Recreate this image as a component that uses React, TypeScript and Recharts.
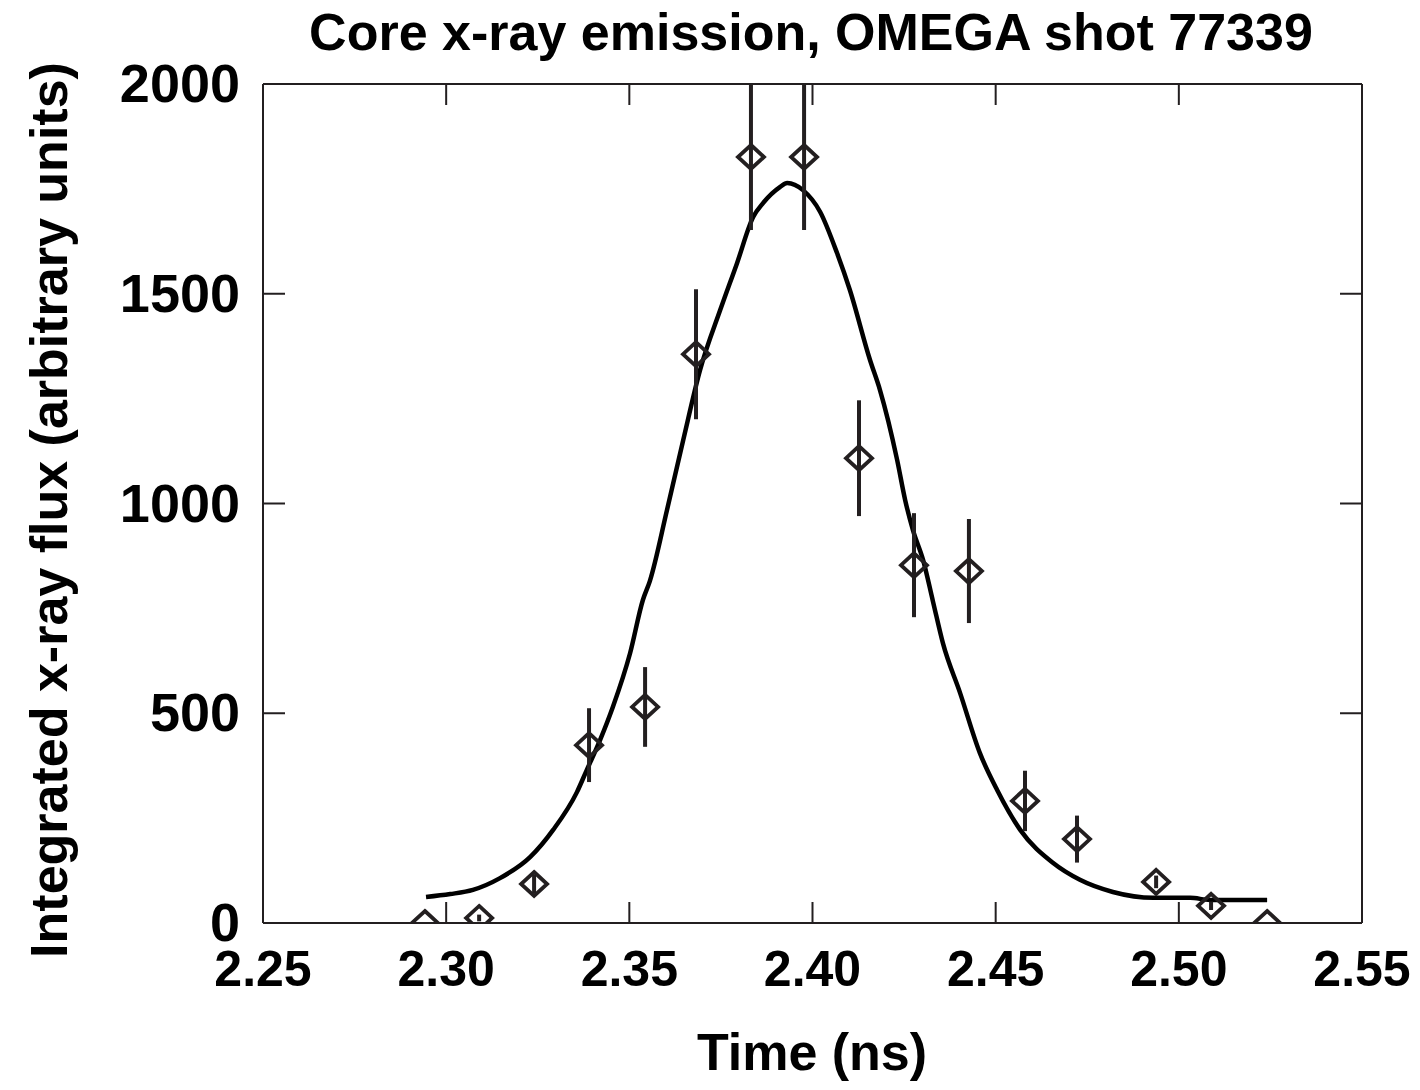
import { ComposedChart, ErrorBar, Line, Scatter, XAxis, YAxis } from 'recharts'

const INK = '#231f20'
const FONT = '"Liberation Sans", Arial, Helvetica, sans-serif'

const X_TICKS = [2.25, 2.3, 2.35, 2.4, 2.45, 2.5, 2.55]
const Y_TICKS = [0, 500, 1000, 1500, 2000]

// fitted curve
const curveTime = [
  2.2945, 2.3011, 2.3073, 2.3147, 2.3229, 2.3292, 2.3357, 2.3384, 2.342, 2.3455, 2.3502, 2.3537, 2.3556,
  2.3603, 2.3647, 2.3693, 2.3748, 2.3794, 2.3838, 2.3865, 2.3911, 2.3931, 2.3974, 2.4021, 2.4067, 2.4102,
  2.4157, 2.4184, 2.4231, 2.4253, 2.4274, 2.4302, 2.4329, 2.4356, 2.4403, 2.4457, 2.4504, 2.4567, 2.4657,
  2.473, 2.482, 2.493, 2.5031, 2.5085, 2.5241,
]
const curveFlux = [
  62, 69, 79, 107, 157, 222, 312, 365, 436, 515, 643, 770, 815,
  985, 1151, 1318, 1461, 1573, 1683, 1716, 1754, 1764, 1747, 1695, 1597, 1509,
  1342, 1271, 1104, 1008, 937, 865, 766, 667, 548, 405, 317, 222, 143,
  103, 74, 60, 60, 55, 55,
]

// measured points with error bars
const pointTime = [
  2.2942, 2.309, 2.324, 2.339, 2.3543, 2.3682, 2.3832, 2.3977, 2.4127, 2.4277, 2.4427, 2.458, 2.4722, 2.4938,
  2.5088, 2.5241,
]
const pointFlux = [0, 12, 93, 424, 515, 1356, 1826, 1826, 1108, 853, 839, 291, 200, 98, 41, 0]
const pointErr = [0, 8, 22, 88, 95, 155, 174, 174, 138, 124, 124, 72, 56, 15, 10, 0]

const curveData = curveTime.map((time, i) => ({ time, flux: curveFlux[i] }))
const pointData = pointTime.map((time, i) => ({ time, flux: pointFlux[i], err: pointErr[i] }))

const tickText = { fontWeight: 700, fill: '#000', fontFamily: FONT }

function BottomTick({ x, y, payload }: any) {
  return (
    <g>
      <line x1={x} y1={y} x2={x} y2={y - 21} stroke={INK} strokeWidth={2} />
      <text x={x} y={y + 63} textAnchor="middle" fontSize={50} {...tickText}>
        {Number(payload.value).toFixed(2)}
      </text>
    </g>
  )
}

function TopTick({ x, y }: any) {
  return <line x1={x} y1={y} x2={x} y2={y + 21} stroke={INK} strokeWidth={2} />
}

function LeftTick({ x, y, payload }: any) {
  return (
    <g>
      <line x1={x} y1={y} x2={x + 22} y2={y} stroke={INK} strokeWidth={2} />
      <text x={x - 23} y={y + 18} textAnchor="end" fontSize={54} {...tickText}>
        {payload.value}
      </text>
    </g>
  )
}

function RightTick({ x, y }: any) {
  return <line x1={x} y1={y} x2={x - 22} y2={y} stroke={INK} strokeWidth={2} />
}

function Diamond({ cx, cy }: any) {
  return (
    <path
      d={`M${cx},${cy - 12} L${cx + 13},${cy} L${cx},${cy + 12} L${cx - 13},${cy} Z`}
      fill="none"
      stroke={INK}
      strokeWidth={3.8}
    />
  )
}

export default function App() {
  const axisLine = { stroke: INK, strokeWidth: 2 }
  return (
    <div style={{ position: 'absolute', left: 0, top: 0, width: 1420, height: 1090, background: '#fff' }}>
      <ComposedChart width={1420} height={1090} margin={{ top: 83, right: 57, bottom: 0, left: 0 }}>
        <XAxis
          xAxisId="bottom"
          dataKey="time"
          type="number"
          domain={[2.25, 2.55]}
          ticks={X_TICKS}
          interval={0}
          allowDataOverflow
          height={167}
          tickSize={0}
          tickMargin={0}
          tickLine={false}
          axisLine={axisLine}
          tick={<BottomTick />}
        />
        <XAxis
          xAxisId="top"
          orientation="top"
          dataKey="time"
          type="number"
          domain={[2.25, 2.55]}
          ticks={X_TICKS}
          interval={0}
          allowDataOverflow
          height={1}
          tickSize={0}
          tickMargin={0}
          tickLine={false}
          axisLine={axisLine}
          tick={<TopTick />}
        />
        <YAxis
          yAxisId="left"
          dataKey="flux"
          type="number"
          domain={[0, 2000]}
          ticks={Y_TICKS}
          interval={0}
          allowDataOverflow
          width={263}
          tickSize={0}
          tickMargin={0}
          tickLine={false}
          axisLine={axisLine}
          tick={<LeftTick />}
        />
        <YAxis
          yAxisId="right"
          orientation="right"
          dataKey="flux"
          type="number"
          domain={[0, 2000]}
          ticks={Y_TICKS}
          interval={0}
          allowDataOverflow
          width={1}
          tickSize={0}
          tickMargin={0}
          tickLine={false}
          axisLine={axisLine}
          tick={<RightTick />}
        />
        <Line
          xAxisId="bottom"
          yAxisId="left"
          data={curveData}
          dataKey="flux"
          type="monotone"
          stroke="#000"
          strokeWidth={4.5}
          dot={false}
          activeDot={false}
          isAnimationActive={false}
        />
        <Scatter
          xAxisId="bottom"
          yAxisId="left"
          data={pointData}
          dataKey="flux"
          shape={<Diamond />}
          isAnimationActive={false}
        >
          <ErrorBar dataKey="err" direction="y" width={0} stroke={INK} strokeWidth={4} isAnimationActive={false} />
        </Scatter>
      </ComposedChart>
      <svg
        width={1420}
        height={1090}
        style={{ position: 'absolute', left: 0, top: 0, pointerEvents: 'none' }}
        fontFamily={FONT}
        fontWeight={700}
        fontSize={52}
      >
        <text x={811} y={50} textAnchor="middle" fill="#000">
          Core x-ray emission, OMEGA shot 77339
        </text>
        <text x={812} y={1070} textAnchor="middle" fill="#000">
          Time (ns)
        </text>
        <text x={67} y={510} textAnchor="middle" fill="#000" transform="rotate(-90 67 510)">
          Integrated x-ray flux (arbitrary units)
        </text>
      </svg>
    </div>
  )
}
